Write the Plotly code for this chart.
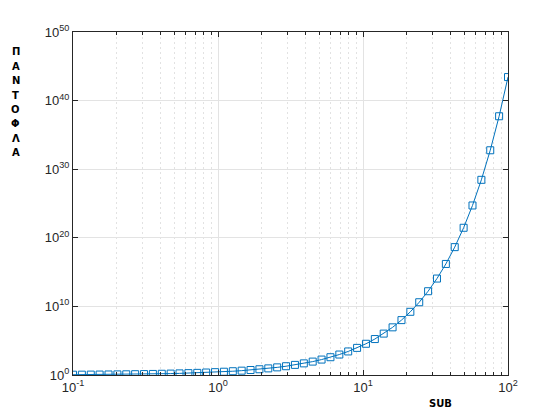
import plotly.graph_objects as go

x_vals = [0.1, 0.1151, 0.1326, 0.1526, 0.1758, 0.2024, 0.2330, 0.2683, 0.3089, 0.3556,
          0.4095, 0.4715, 0.5429, 0.6251, 0.7197, 0.8286, 0.9541, 1.0985, 1.2649, 1.4563,
          1.6768, 1.9307, 2.2230, 2.5595, 2.9471, 3.3932, 3.9069, 4.4984, 5.1795, 5.9636,
          6.8665, 7.9060, 9.1030, 10.481, 12.068, 13.895, 15.999, 18.421, 21.210, 24.421,
          28.118, 32.375, 37.276, 42.919, 49.417, 56.899, 65.513, 75.431, 86.851, 100.0]
y_vals = [1.105, 1.122, 1.142, 1.165, 1.192, 1.224, 1.262, 1.308, 1.362, 1.427,
          1.506, 1.602, 1.721, 1.868, 2.054, 2.290, 2.596, 3.000, 3.543, 4.290,
          5.349, 6.894, 9.235, 12.93, 19.05, 29.76, 49.75, 89.88, 177.6, 389.2,
          959.7, 2714.0, 8983.0, 3.562e4, 1.742e5, 1.083e6, 8.877e6, 1.000e8, 1.627e9, 4.036e10,
          1.627e12, 1.149e14, 1.544e16, 4.36e18, 2.894e21, 5.139e24, 2.831e28, 5.745e32, 5.235e37, 2.688e43]

x_major = [0.1, 1, 10, 100]
x_major_text = ["10<sup>-1</sup>", "10<sup>0</sup>", "10<sup>1</sup>", "10<sup>2</sup>"]
x_minor = [m * d for d in (0.1, 1, 10) for m in range(2, 10)]
y_major = [1e0, 1e10, 1e20, 1e30, 1e40, 1e50]
y_major_text = ["10<sup>0</sup>", "10<sup>10</sup>", "10<sup>20</sup>",
                "10<sup>30</sup>", "10<sup>40</sup>", "10<sup>50</sup>"]
y_label_letters = ["Π", "Α", "Ν", "Τ", "Ο", "Φ", "Λ", "Α"]
x_label = "SUB"

W, H = 560, 420
L, R, T, B = 73, 52, 32, 45

fig = go.Figure()
fig.add_trace(go.Scatter(
    x=x_vals, y=y_vals, mode="lines+markers",
    line=dict(color="#0072BD", width=1),
    marker=dict(symbol="square-open", size=7, color="#0072BD", line=dict(width=1)),
    showlegend=False, hoverinfo="skip"))

axis_common = dict(
    type="log", showline=True, linecolor="#262626", linewidth=1, mirror="allticks",
    ticks="inside", ticklen=5, tickcolor="#262626", zeroline=False,
    showgrid=True, gridcolor="#e3e3e3", gridwidth=1, automargin=False,
    tickfont=dict(family="Liberation Sans, Arial", size=13, color="#262626"),
)

fig.update_xaxes(
    **axis_common, range=[-1, 2], tickmode="array", tickvals=x_major, ticktext=x_major_text,
    minor=dict(tickmode="array", tickvals=x_minor, showgrid=True, griddash="2px,3px",
               gridcolor="#e2e2e2", gridwidth=1, ticks="inside", ticklen=3,
               tickcolor="#262626"))
fig.update_yaxes(
    **axis_common, range=[0, 50], tickmode="array", tickvals=y_major, ticktext=y_major_text)

annotations = []
plot_h = H - T - B
top_px, step_px = 52, 14.4
label_font = dict(family="DejaVu Sans, Verdana", size=10, color="#000000")
for i, ch in enumerate(y_label_letters):
    py = top_px + i * step_px
    annotations.append(dict(
        text="<b>%s</b>" % ch, xref="paper", yref="paper",
        x=(16 - L) / (W - L - R), y=1 - (py - T) / plot_h,
        showarrow=False, xanchor="center", yanchor="middle", font=label_font))
annotations.append(dict(
    text="<b>%s</b>" % x_label, xref="paper", yref="paper",
    x=(440 - L) / (W - L - R), y=-(403 - (H - B)) / plot_h,
    showarrow=False, xanchor="center", yanchor="middle", font=label_font))

fig.update_layout(
    width=W, height=H, margin=dict(l=L, r=R, t=T, b=B, autoexpand=False),
    paper_bgcolor="white", plot_bgcolor="white", annotations=annotations,
    font=dict(family="Liberation Sans, Arial", color="#262626"))

fig.write_html("out.html", config={"displayModeBar": False},
               post_script="document.body.style.margin='0';document.body.style.padding='0';")
